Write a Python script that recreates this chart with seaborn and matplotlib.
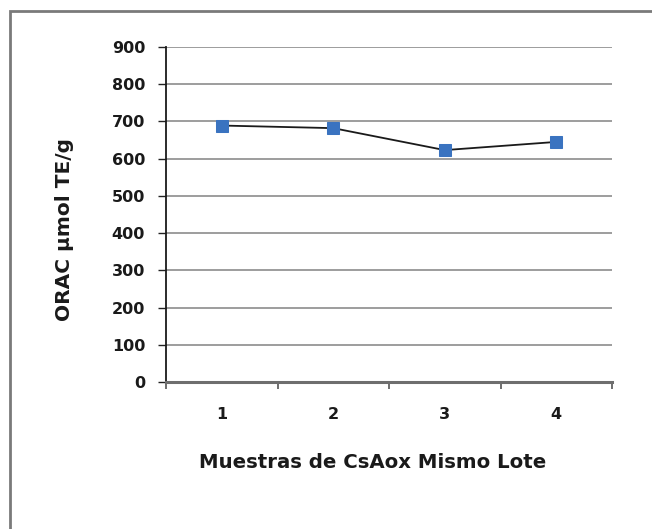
import matplotlib
matplotlib.use("Agg")
import matplotlib.pyplot as plt
from matplotlib.patches import Rectangle
import seaborn as sns
import pandas as pd

# ORAC values per sample of the same CsAox batch
samples = ["1", "2", "3", "4"]
orac = [689, 682, 623, 645]
y_ticks = [0, 100, 200, 300, 400, 500, 600, 700, 800, 900]

df = pd.DataFrame({"pos": range(len(samples)), "orac": orac})

sns.set_theme(style="white")
plt.rcParams["font.family"] = ["DejaVu Sans"]
plt.rcParams["font.weight"] = "bold"

fig = plt.figure(figsize=(6.52, 5.29), dpi=100)
ax = fig.add_axes([166 / 652, 1 - 382 / 529, (612 - 166) / 652, (382 - 47) / 529])

sns.lineplot(data=df, x="pos", y="orac", ax=ax, color="#1a1a1a", linewidth=1.3,
             marker="s", markersize=8.5, markerfacecolor="#3a73c0",
             markeredgecolor="#3a73c0", zorder=3)

ax.set_xlim(-0.5, len(samples) - 0.5)
ax.set_ylim(0, 900)
ax.set_yticks(y_ticks)
ax.set_yticklabels([str(v) for v in y_ticks])
ax.grid(axis="y", color="#8c8c8c", linewidth=1.2)
ax.grid(axis="x", visible=False)

# category labels centred, tick marks between categories
ax.set_xticks(range(len(samples)))
ax.set_xticklabels(samples)
ax.set_xticks([i - 0.5 for i in range(len(samples) + 1)], minor=True)
ax.tick_params(axis="x", which="major", length=0, pad=18, labelsize=11.5,
               labelcolor="#1a1a1a")
ax.tick_params(axis="x", which="minor", length=5, width=1.2, direction="out",
               color="#555555", bottom=True)
ax.tick_params(axis="y", length=6, width=1.0, direction="out", left=True,
               color="#222222", labelsize=11.5, pad=9, labelcolor="#1a1a1a")

for side in ["top", "right"]:
    ax.spines[side].set_visible(False)
ax.spines["left"].set_color("#1a1a1a")
ax.spines["left"].set_linewidth(1.3)
ax.spines["bottom"].set_color("#6e6e6e")
ax.spines["bottom"].set_linewidth(2.2)

ax.set_xlabel("")
ax.set_ylabel("ORAC µmol TE/g", fontsize=14.5, fontweight="bold", color="#1a1a1a")
ax.yaxis.set_label_coords(-0.206, 0.455)
fig.text(373 / 652, 1 - 462 / 529, "Muestras de CsAox Mismo Lote", ha="center",
         va="center", fontsize=14.2, fontweight="bold", color="#1a1a1a")

# chart-area frame
fig.patches.append(Rectangle((10 / 652, -0.1), 1.2, 1.1 - 11 / 529,
                             transform=fig.transFigure, fill=False,
                             edgecolor="#7a7a7a", linewidth=2))

fig.savefig("out.png", dpi=100, facecolor="white")
